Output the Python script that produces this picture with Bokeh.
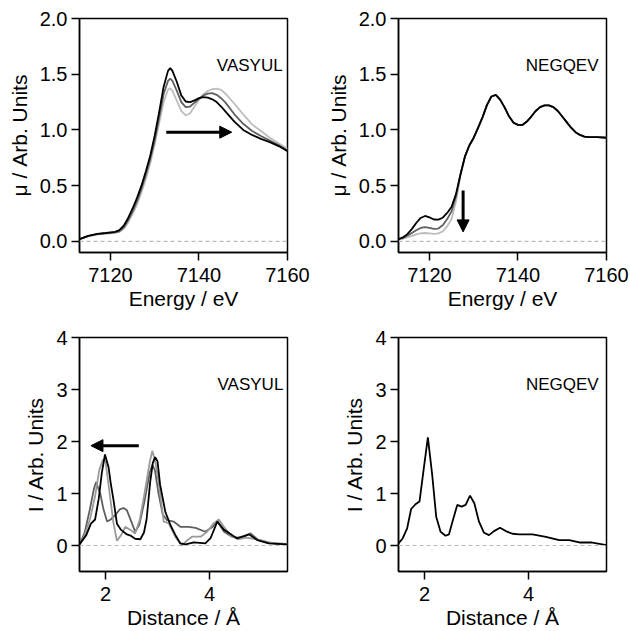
from bokeh.plotting import figure
from bokeh.layouts import gridplot
from bokeh.models import Range1d, FixedTicker, Span, Arrow, NormalHead, Label, NumeralTickFormatter
from bokeh.embed import file_html
from bokeh.resources import INLINE

FONT = "Liberation Sans"

# ---------------- Top-left: VASYUL XANES ----------------
e_tl = [7113, 7115, 7117, 7119, 7121, 7122, 7123, 7124, 7125, 7126, 7127, 7128, 7129, 7130,
        7131, 7132, 7133, 7133.5, 7134, 7135, 7136, 7137, 7138, 7139, 7140, 7141, 7142, 7143,
        7144, 7145, 7146, 7148, 7150, 7152, 7154, 7156, 7158, 7160]
mu_tl_black = [0.02, 0.05, 0.067, 0.075, 0.085, 0.10, 0.14, 0.21, 0.295, 0.39, 0.50, 0.63, 0.77, 0.95,
               1.16, 1.385, 1.53, 1.555, 1.53, 1.43, 1.31, 1.255, 1.25, 1.265, 1.285, 1.295, 1.29, 1.275,
               1.25, 1.21, 1.165, 1.075, 1.0, 0.955, 0.92, 0.89, 0.855, 0.81]
mu_tl_dark = [0.02, 0.05, 0.065, 0.073, 0.08, 0.09, 0.125, 0.19, 0.27, 0.36, 0.47, 0.60, 0.74, 0.91,
              1.11, 1.32, 1.44, 1.46, 1.44, 1.35, 1.25, 1.205, 1.21, 1.245, 1.28, 1.31, 1.325, 1.33,
              1.315, 1.285, 1.245, 1.14, 1.055, 0.99, 0.945, 0.905, 0.865, 0.815]
mu_tl_light = [0.02, 0.045, 0.06, 0.07, 0.075, 0.085, 0.11, 0.17, 0.245, 0.33, 0.44, 0.56, 0.70, 0.87,
               1.06, 1.25, 1.36, 1.375, 1.35, 1.26, 1.17, 1.13, 1.15, 1.21, 1.27, 1.32, 1.35, 1.365,
               1.37, 1.36, 1.325, 1.235, 1.14, 1.05, 0.99, 0.93, 0.88, 0.83]

# ---------------- Top-right: NEGQEV XANES ----------------
e_tr = [7113, 7114, 7115, 7116, 7117, 7118, 7119, 7120, 7121, 7122, 7123, 7124, 7125, 7126, 7127,
        7128, 7129, 7130, 7131, 7132, 7133, 7134, 7135, 7136, 7137, 7138, 7139, 7140, 7141, 7142,
        7143, 7144, 7145, 7146, 7147, 7148, 7149, 7150, 7151, 7152, 7153, 7154, 7155, 7156, 7158, 7160]
mu_tr_black = [0.02, 0.035, 0.065, 0.11, 0.165, 0.21, 0.228, 0.215, 0.196, 0.195, 0.212, 0.255, 0.31, 0.426, 0.60,
               0.76, 0.86, 0.93, 1.02, 1.115, 1.225, 1.30, 1.315, 1.27, 1.20, 1.12, 1.065, 1.045, 1.045, 1.075,
               1.12, 1.17, 1.205, 1.22, 1.22, 1.205, 1.17, 1.12, 1.07, 1.02, 0.98, 0.955, 0.94, 0.935, 0.935, 0.93]
mu_tr_dark = [0.02, 0.03, 0.05, 0.075, 0.10, 0.12, 0.127, 0.12, 0.112, 0.115, 0.145, 0.20, 0.27, 0.405, 0.60,
              0.76, 0.86, 0.93, 1.02, 1.115, 1.225, 1.30, 1.315, 1.27, 1.20, 1.12, 1.065, 1.045, 1.045, 1.075,
              1.12, 1.17, 1.205, 1.22, 1.22, 1.205, 1.17, 1.12, 1.07, 1.02, 0.98, 0.955, 0.94, 0.935, 0.935, 0.93]
mu_tr_light = [0.02, 0.025, 0.035, 0.05, 0.063, 0.072, 0.075, 0.072, 0.067, 0.072, 0.09, 0.135, 0.20, 0.36, 0.59,
               0.76, 0.86, 0.93, 1.02, 1.115, 1.225, 1.30, 1.315, 1.27, 1.20, 1.12, 1.065, 1.045, 1.045, 1.075,
               1.12, 1.17, 1.205, 1.22, 1.22, 1.205, 1.17, 1.12, 1.07, 1.02, 0.98, 0.955, 0.94, 0.935, 0.935, 0.93]

# ---------------- Bottom-left: VASYUL FT ----------------
r_bl_black = [1.5, 1.63, 1.72, 1.80, 1.87, 1.93, 1.99, 2.06, 2.10, 2.15, 2.22, 2.30, 2.40, 2.48, 2.57,
              2.67, 2.74, 2.79, 2.86, 2.91, 2.955, 3.0, 3.05, 3.15, 3.25, 3.345, 3.44, 3.54, 3.70, 3.92,
              4.02, 4.15, 4.28, 4.34, 4.53, 4.76, 4.92, 5.14, 5.5]
i_bl_black = [0.02, 0.2, 0.42, 0.5, 0.9, 1.4, 1.75, 1.5, 1.2, 0.9, 0.42, 0.3, 0.22, 0.19, 0.13,
              0.12, 0.25, 0.5, 1.23, 1.59, 1.70, 1.62, 1.17, 0.65, 0.39, 0.2, 0.04, 0.02, 0.06, 0.04,
              0.14, 0.46, 0.30, 0.265, 0.136, 0.214, 0.104, 0.04, 0.02]
r_bl_light = [1.5, 1.6, 1.7, 1.8, 1.88, 1.95, 2.0, 2.08, 2.15, 2.22, 2.30, 2.38, 2.48, 2.57, 2.66,
              2.75, 2.85, 2.90, 2.96, 3.02, 3.12, 3.215, 3.34, 3.47, 3.57, 3.665, 3.83, 3.955, 4.083, 4.18,
              4.277, 4.4, 4.55, 4.7, 4.85, 5.0, 5.2, 5.5]
i_bl_light = [0.02, 0.2, 0.5, 0.95, 1.45, 1.65, 1.62, 1.0, 0.45, 0.09, 0.2, 0.36, 0.3, 0.23, 0.5,
              1.0, 1.6, 1.82, 1.6, 1.23, 0.46, 0.43, 0.17, 0.0, 0.1, 0.17, 0.17, 0.265, 0.43, 0.5,
              0.36, 0.2, 0.12, 0.15, 0.13, 0.10, 0.05, 0.03]
r_bl_dark = [1.5, 1.6, 1.7, 1.78, 1.82, 1.86, 1.9, 1.96, 2.03, 2.1, 2.2, 2.28, 2.35, 2.41, 2.5,
             2.57, 2.65, 2.75, 2.85, 2.9, 2.95, 3.02, 3.1, 3.18, 3.31, 3.44, 3.6, 3.73, 3.92, 4.05,
             4.15, 4.28, 4.43, 4.55, 4.66, 4.79, 4.92, 5.1, 5.3, 5.5]
i_bl_dark = [0.02, 0.25, 0.7, 1.1, 1.22, 1.1, 1.0, 0.7, 0.46, 0.5, 0.6, 0.7, 0.72, 0.68, 0.45,
             0.265, 0.4, 0.85, 1.4, 1.55, 1.45, 1.0, 0.6, 0.49, 0.46, 0.36, 0.36, 0.34, 0.265, 0.35,
             0.47, 0.265, 0.17, 0.15, 0.17, 0.233, 0.12, 0.06, 0.03, 0.02]

# ---------------- Bottom-right: NEGQEV FT ----------------
r_br = [1.5, 1.58, 1.666, 1.743, 1.827, 1.904, 1.987, 2.065, 2.148, 2.225, 2.309, 2.405, 2.47, 2.547,
        2.63, 2.714, 2.791, 2.875, 2.958, 3.048, 3.145, 3.241, 3.337, 3.453, 3.563, 3.691, 3.82, 4.077,
        4.334, 4.591, 4.784, 4.977, 5.202, 5.5]
i_br = [0.04, 0.135, 0.329, 0.702, 0.793, 0.844, 1.488, 2.08, 1.36, 0.554, 0.264, 0.187, 0.213, 0.49,
        0.78, 0.748, 0.78, 0.96, 0.812, 0.458, 0.245, 0.2, 0.277, 0.342, 0.277, 0.226, 0.213, 0.213,
        0.167, 0.103, 0.103, 0.058, 0.058, 0.006]

# annotations
xanes_ticks_x = [7120, 7140, 7160]
xanes_ticks_y = [0.0, 0.5, 1.0, 1.5, 2.0]
ft_ticks_x = [2, 4]
ft_ticks_y = [0, 1, 2, 3, 4]
arrow_tl = (7132.6, 0.98, 7147.4, 0.98)
arrow_tr = (7127.6, 0.456, 7127.6, 0.085)
arrow_bl = (2.64, 1.92, 1.72, 1.92)
label_tl = (7158.9, 1.574, "VASYUL")
label_tr = (7158.2, 1.574, "NEGQEV")
label_bl = (5.42, 3.1, "VASYUL")
label_br = (5.35, 3.1, "NEGQEV")

BLACK = "#000000"
DARK = "#606060"
LIGHT_TOP = "#bdbdbd"
LIGHT_BOT = "#9a9a9a"


def make_fig(xr, yr, w, h, bl, br, bt, bb, xlabel, ylabel, xticks, yticks, yfmt=None):
    p = figure(width=w, height=h, x_range=Range1d(*xr), y_range=Range1d(*yr),
               output_backend="svg", toolbar_location=None,
               min_border_left=bl, min_border_right=br, min_border_top=bt, min_border_bottom=bb)
    p.xgrid.visible = False
    p.ygrid.visible = False
    p.outline_line_color = "black"
    p.outline_line_width = 1.5
    p.background_fill_color = "white"
    p.border_fill_color = "white"
    for ax in (p.xaxis[0], p.yaxis[0]):
        ax.axis_line_width = 1.5
        ax.axis_line_color = "black"
        ax.major_tick_line_width = 1.5
        ax.major_tick_line_color = "black"
        ax.major_tick_in = 0
        ax.major_tick_out = 8
        ax.minor_tick_line_color = None
        ax.major_label_text_font = FONT
        ax.major_label_text_font_size = "20px"
        ax.major_label_text_color = "black"
        ax.axis_label_text_font = FONT
        ax.axis_label_text_font_size = "21px"
        ax.axis_label_text_font_style = "normal"
        ax.axis_label_text_color = "black"
    p.xaxis[0].major_label_standoff = 7
    p.yaxis[0].major_label_standoff = 4
    p.xaxis[0].axis_label_standoff = 2
    p.yaxis[0].axis_label_standoff = 6
    p.xaxis[0].ticker = FixedTicker(ticks=xticks)
    p.yaxis[0].ticker = FixedTicker(ticks=yticks)
    if yfmt:
        p.yaxis[0].formatter = NumeralTickFormatter(format=yfmt)
    p.xaxis[0].axis_label = xlabel
    p.yaxis[0].axis_label = ylabel
    p.add_layout(Span(location=0, dimension="width", line_color="#bbbbbb",
                      line_width=1.2, line_dash="4 3"))
    return p


def add_arrow(p, a):
    p.add_layout(Arrow(end=NormalHead(size=12, fill_color="black", line_color="black", line_width=1),
                       x_start=a[0], y_start=a[1], x_end=a[2], y_end=a[3],
                       line_width=3, line_color="black"))


def add_label(p, lab):
    p.add_layout(Label(x=lab[0], y=lab[1], text=lab[2], text_align="right",
                       text_baseline="alphabetic", text_font=FONT,
                       text_font_size="17px", text_color="black"))


lw = 1.8
# Top-left
p1 = make_fig((7113, 7160), (-0.1, 2.0), 315, 315, 79, 28, 18, 63,
              "Energy / eV", "μ / Arb. Units", xanes_ticks_x, xanes_ticks_y, "0.0")
p1.line(e_tl, mu_tl_light, line_color=LIGHT_TOP, line_width=lw)
p1.line(e_tl, mu_tl_dark, line_color=DARK, line_width=lw)
p1.line(e_tl, mu_tl_black, line_color=BLACK, line_width=lw)
add_arrow(p1, arrow_tl)
add_label(p1, label_tl)

# Top-right
p2 = make_fig((7113, 7160), (-0.1, 2.0), 315, 315, 83, 24, 18, 63,
              "Energy / eV", "μ / Arb. Units", xanes_ticks_x, xanes_ticks_y, "0.0")
p2.line(e_tr, mu_tr_light, line_color=LIGHT_TOP, line_width=lw)
p2.line(e_tr, mu_tr_dark, line_color=DARK, line_width=lw)
p2.line(e_tr, mu_tr_black, line_color=BLACK, line_width=lw)
add_arrow(p2, arrow_tr)
add_label(p2, label_tr)

# Bottom-left
p3 = make_fig((1.5, 5.5), (-0.5, 4.0), 315, 316, 79, 28, 22, 60,
              "Distance / Å", "I / Arb. Units", ft_ticks_x, ft_ticks_y)
p3.line(r_bl_dark, i_bl_dark, line_color=DARK, line_width=lw)
p3.line(r_bl_light, i_bl_light, line_color=LIGHT_BOT, line_width=lw)
p3.line(r_bl_black, i_bl_black, line_color=BLACK, line_width=lw)
add_arrow(p3, arrow_bl)
add_label(p3, label_bl)

# Bottom-right
p4 = make_fig((1.5, 5.5), (-0.5, 4.0), 315, 316, 83, 24, 22, 60,
              "Distance / Å", "I / Arb. Units", ft_ticks_x, ft_ticks_y)
p4.line(r_br, i_br, line_color=BLACK, line_width=lw)
add_label(p4, label_br)

grid = gridplot([[p1, p2], [p3, p4]], toolbar_location=None)

open("out.html", "w").write(file_html(grid, INLINE))
